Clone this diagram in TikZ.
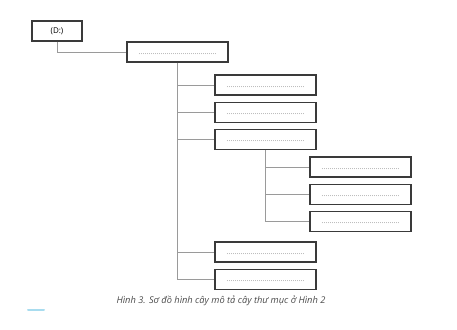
\documentclass[tikz,border=0pt]{standalone}
\usepackage{fontspec}
\setsansfont{Open Sans}
\usepackage{xcolor}
\definecolor{boxline}{HTML}{3A3A3A}
\definecolor{treeline}{HTML}{9A9A9A}
\definecolor{dotgray}{HTML}{555555}
\definecolor{capgray}{HTML}{4A4A4A}
\definecolor{markblue}{HTML}{A8DCEF}
\usetikzlibrary{positioning}

\newcommand{\blankline}{\raisebox{-5pt}{\makebox[78pt]{\color{dotgray}%
  \leaders\hbox to 2pt{\hss.\hss}\hfill}}}

\begin{document}
\begin{tikzpicture}[x=1pt, y=-1pt,
    font=\sffamily\fontsize{6}{7}\selectfont,
    folder/.style={draw=boxline, line width=1.2pt, fill=white,
                   minimum width=101pt, minimum height=20pt, inner sep=0pt},
    branch/.style={draw=treeline, line width=0.9pt},
    node distance=6pt]
  \useasboundingbox (0,0) rectangle (457,329);
  % drive and first folder
  \node[folder, minimum width=50pt, font=\sffamily\fontsize{8}{9}\selectfont]
    (drive) at (57,31) {(D:)};
  \node[folder] (root) at (177.5,52) {\blankline};
  % children of root
  \node[folder] (fa) at (265.5,85) {\blankline};
  \node[folder, below=of fa] (fb) {\blankline};
  \node[folder, below=of fb] (fc) {\blankline};
  % children of the third folder
  \node[folder] (ca) at (360.5,167) {\blankline};
  \node[folder, below=of ca] (cb) {\blankline};
  \node[folder, below=of cb] (cc) {\blankline};
  % last two folders
  \node[folder] (fd) at (265.5,252) {\blankline};
  \node[folder, below=of fd] (fe) {\blankline};
  % tree lines
  \draw[branch] (drive.south) |- (root.west);
  \draw[branch] (root.south) |- (fe.west);
  \foreach \n in {fa,fb,fc,fd}
    \draw[branch] (root.south |- \n.west) -- (\n.west);
  \draw[branch] (fc.south) |- (cc.west);
  \foreach \n in {ca,cb}
    \draw[branch] (fc.south |- \n.west) -- (\n.west);
  % caption
  \node[font=\sffamily\itshape\fontsize{9.3}{11}\selectfont, text=capgray]
    (caption) at (221,301) {Hình 3. Sơ đồ hình cây mô tả cây thư mục ở Hình 2};
  \draw[markblue, line width=2pt, line cap=round] (28,310) -- (44,310);
\end{tikzpicture}
\end{document}
